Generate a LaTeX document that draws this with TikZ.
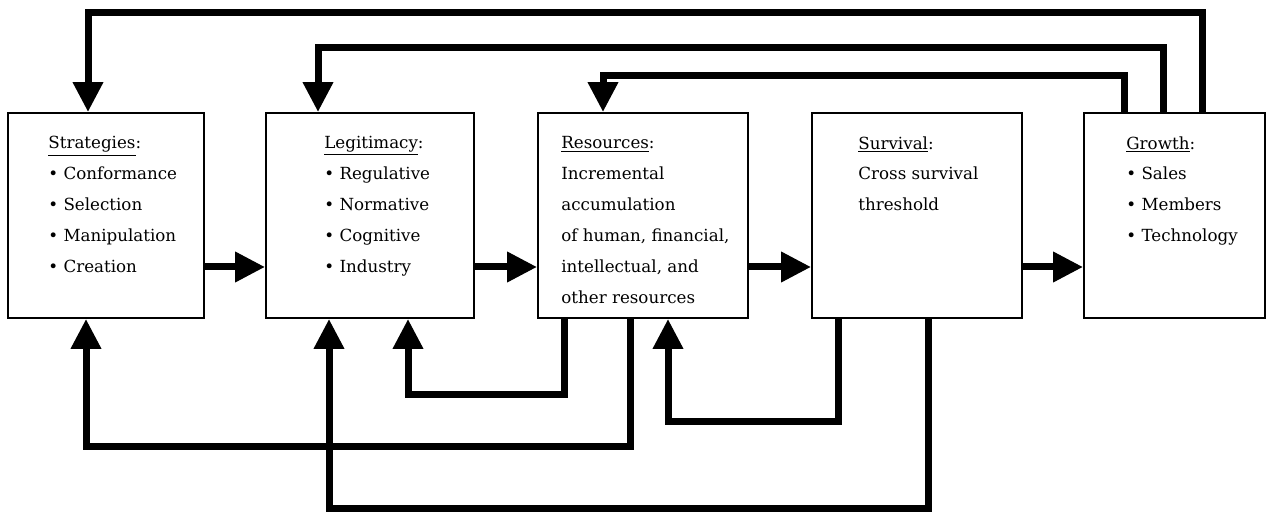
\documentclass[tikz,border=0pt]{standalone}
\usepackage{fontspec}
\setmainfont{DejaVu Serif}
\usetikzlibrary{arrows.meta}

\begin{document}
\begin{tikzpicture}[
    box/.style={shape=rectangle, draw, line width=1.1pt, minimum height=4.10cm, inner sep=0pt},
    txt/.style={anchor=north west, align=left, inner sep=0pt, font=\fontsize{9.5}{17.6}\selectfont},
    flow/.style={line width=0.14cm, line join=miter, -{Triangle[length=0.6cm,width=0.58cm]}}
  ]
     \useasboundingbox (0,0) rectangle (25.32,-10.26);

     % the five stages
     \path (2.12,-4.31)  node [box, minimum width=3.92cm] (strat) {}
           (7.40,-4.31)  node [box, minimum width=4.16cm] (legit) {}
           (12.86,-4.31) node [box, minimum width=4.20cm] (res) {}
           (18.34,-4.31) node [box, minimum width=4.20cm] (surv) {}
           (23.49,-4.31) node [box, minimum width=3.62cm] (grow) {}
     ;

     \node [txt] (stratT) at ([xshift=0.82cm,yshift=-0.48cm]strat.north west)
           {\underline{Strategies}:\\ \textbullet\ Conformance\\ \textbullet\ Selection\\
            \textbullet\ Manipulation\\ \textbullet\ Creation};
     \node [txt] (legitT) at ([xshift=1.18cm,yshift=-0.48cm]legit.north west)
           {\underline{Legitimacy}:\\ \textbullet\ Regulative\\ \textbullet\ Normative\\
            \textbullet\ Cognitive\\ \textbullet\ Industry};
     \node [txt] (resT) at ([xshift=0.48cm,yshift=-0.48cm]res.north west)
           {\underline{Resources}:\\ Incremental\\ accumulation\\ of human, financial,\\
            intellectual, and\\ other resources};
     \node [txt] (survT) at ([xshift=0.94cm,yshift=-0.48cm]surv.north west)
           {\underline{Survival}:\\ Cross survival\\ threshold};
     \node [txt] (growT) at ([xshift=0.86cm,yshift=-0.48cm]grow.north west)
           {\underline{Growth}:\\ \textbullet\ Sales\\ \textbullet\ Members\\ \textbullet\ Technology};

     % forward arrows
     \draw [flow] ([yshift=-1.03cm]strat.east) -- ([yshift=-1.03cm]legit.west);
     \draw [flow] ([yshift=-1.03cm]legit.east) -- ([yshift=-1.03cm]res.west);
     \draw [flow] ([yshift=-1.03cm]res.east)   -- ([yshift=-1.03cm]surv.west);
     \draw [flow] ([yshift=-1.03cm]surv.east)  -- ([yshift=-1.03cm]grow.west);

     % feedback from growth, over the top
     \draw [flow] ([xshift=0.55cm]grow.north)  -- ++(0,2.00) -| ([xshift=-0.36cm]strat.north);
     \draw [flow] ([xshift=-0.23cm]grow.north) -- ++(0,1.30) -| ([xshift=-1.04cm]legit.north);
     \draw [flow] ([xshift=-1.01cm]grow.north) -- ++(0,0.74) -| ([xshift=-0.80cm]res.north);

     % feedback underneath
     \draw [flow] ([xshift=-1.58cm]res.south)  -- ++(0,-1.52) -| ([xshift=0.76cm]legit.south);
     \draw [flow] ([xshift=-0.26cm]res.south)  -- ++(0,-2.56) -| ([xshift=-0.40cm]strat.south);
     \draw [flow] ([xshift=-1.58cm]surv.south) -- ++(0,-2.06) -| ([xshift=0.50cm]res.south);
     \draw [flow] ([xshift=0.22cm]surv.south)  -- ++(0,-3.80) -| ([xshift=-0.82cm]legit.south);

\end{tikzpicture}
\end{document}
